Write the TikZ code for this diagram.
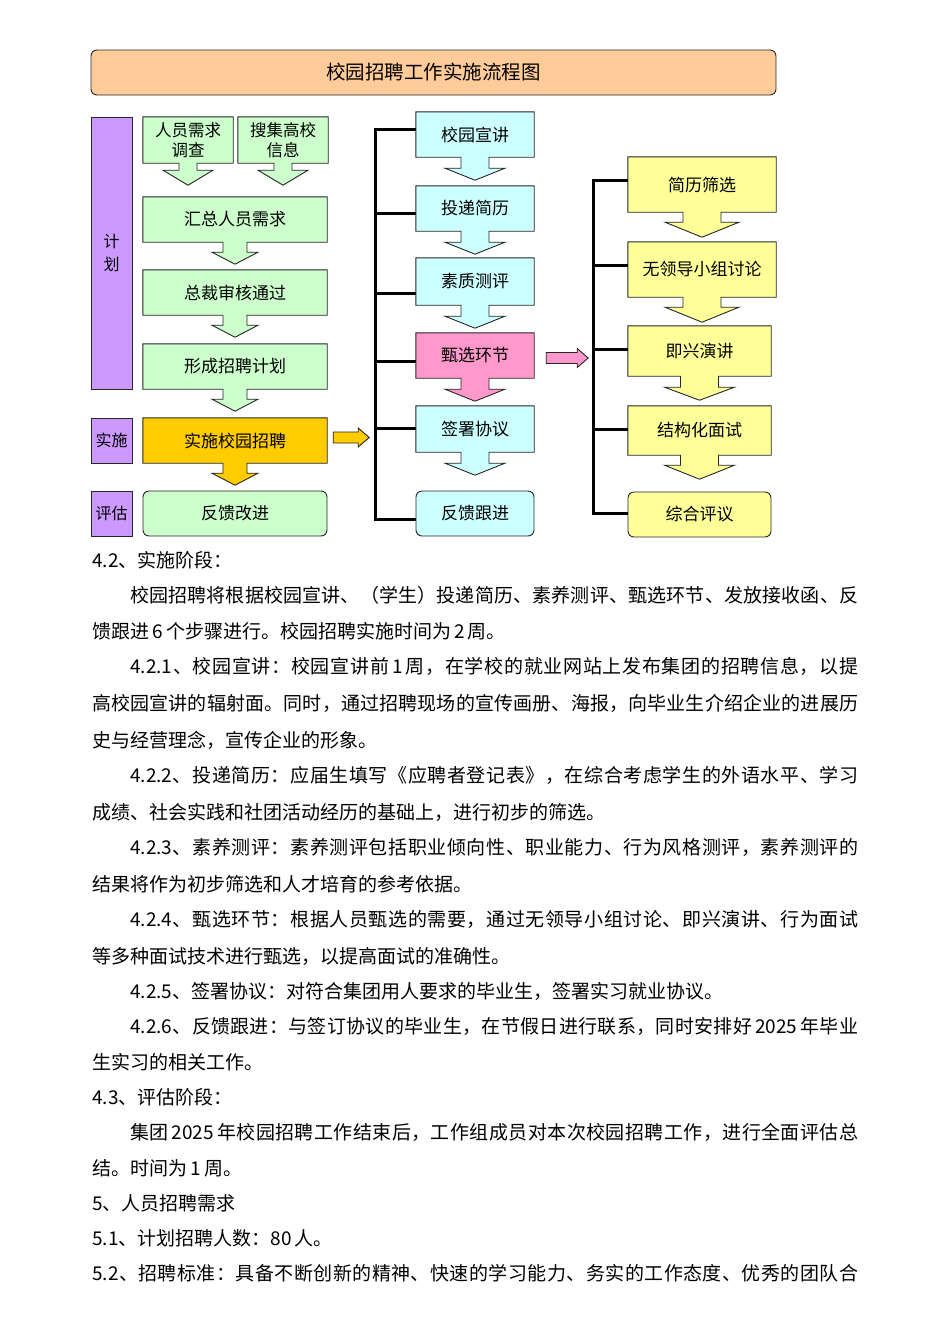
\documentclass[tikz,border=0pt]{standalone}
\usepackage{fontspec}
\setmainfont{Noto Sans CJK SC}
% espaciado entre ideogramas para justificar las lineas llenas
\newcount\cjkc
\cjkc="4E00
\loop \XeTeXcharclass\cjkc=1 \advance\cjkc by 1 \ifnum\cjkc<"A000 \repeat
\cjkc="3000
\loop \XeTeXcharclass\cjkc=1 \advance\cjkc by 1 \ifnum\cjkc<"3040 \repeat
\cjkc="FF00
\loop \XeTeXcharclass\cjkc=1 \advance\cjkc by 1 \ifnum\cjkc<"FF20 \repeat
\XeTeXinterchartokenstate=1
\XeTeXinterchartoks 1 1 = {\hskip 0pt plus 1pt\relax}
\XeTeXinterchartoks 0 1 = {\hskip 0pt plus 1pt\relax}
\XeTeXinterchartoks 1 0 = {\hskip 0pt plus 1pt\relax}
\usetikzlibrary{calc,backgrounds}
\definecolor{durazno}{HTML}{FFCC99}
\definecolor{lila}{HTML}{CC99FF}
\definecolor{verde}{HTML}{CCFFCC}
\definecolor{naranja}{HTML}{FFCC00}
\definecolor{celeste}{HTML}{CCFFFF}
\definecolor{rosa}{HTML}{FF99CC}
\definecolor{amarillo}{HTML}{FFFF99}
\tikzset{
  borde/.style={draw=black!85, line width=0.9pt},
  titulo/.style={rectangle, borde, fill=durazno, rounded corners=6pt,
                 minimum width=685pt, minimum height=45pt, font=\fontsize{19.5pt}{20pt}\selectfont},
  fase/.style={rectangle, borde, fill=lila, minimum width=41pt, inner sep=0pt,
               align=center, font=\fontsize{16pt}{23pt}\selectfont},
  paso/.style={rectangle, inner sep=0pt, align=center, font=\fontsize{17pt}{20pt}\selectfont},
  final/.style={paso, borde, rounded corners=6pt},
  bus/.style={line width=3pt, black},
  linea/.style={anchor=west, inner sep=0pt, font=\fontsize{19pt}{19pt}\selectfont}
}
% caja con flecha hacia abajo: nodo, color, medio tallo, media punta, largo tallo, largo punta
\newcommand{\bajada}[6]{%
  \begin{pgfonlayer}{background}
  \filldraw[borde, fill=#2] (#1.north west) -- (#1.north east) -- (#1.south east)
    -- ($(#1.south)+(#3,0)$) -- ($(#1.south)+(#3,#5)$) -- ($(#1.south)+(#4,#5)$)
    -- ($(#1.south)+(0,#5+#6)$) -- ($(#1.south)+(-#4,#5)$)
    -- ($(#1.south)+(-#3,#5)$) -- ($(#1.south)+(-#3,0)$)
    -- (#1.south west) -- cycle;
  \end{pgfonlayer}}
% flecha gruesa hacia la derecha: inicio, largo, color
\newcommand{\derecha}[3]{%
  \filldraw[borde, fill=#3] (#1) ++(0,-5.5) -- ++({#2-11},0) -- ++(0,-4) -- ++(11,9.5)
    -- ++(-11,9.5) -- ++(0,-4) -- ++({11-#2},0) -- cycle;}
\newcommand{\llena}[2]{\makebox[#1][s]{#2}}

\begin{document}
\begin{tikzpicture}[x=1pt, y=-1pt]
\useasboundingbox (0,0) rectangle (950,1344);
\begin{pgfonlayer}{background}
\fill[white] (0,0) rectangle (950,1344);
\end{pgfonlayer}

\node[titulo] (titulo) at (433.5,72.5) {校园招聘工作实施流程图};

% fases
\node[fase, minimum height=272pt] (fjihua) at (111.5,253) {计\\划};
\node[fase, minimum height=45pt] (fshishi) at (111.5,440.5) {实施};
\node[fase, minimum height=45pt] (fpinggu) at (111.5,513.5) {评估};

% columna izquierda
\node[paso, minimum width=90pt, minimum height=46pt, font=\fontsize{16.5pt}{20pt}\selectfont]
  (diaocha) at (188,140) {人员需求\\调查};
\node[paso, minimum width=90pt, minimum height=46pt, font=\fontsize{16.5pt}{20pt}\selectfont]
  (souji) at (283,140) {搜集高校\\信息};
\node[paso, minimum width=184pt, minimum height=45pt] (huizong) at (235,219.5) {汇总人员需求};
\node[paso, minimum width=184pt, minimum height=45pt] (shenhe) at (235,292.5) {总裁审核通过};
\node[paso, minimum width=184pt, minimum height=45pt] (jihua) at (235,366.5) {形成招聘计划};
\node[paso, minimum width=184pt, minimum height=45pt] (shishi) at (235,440.5) {实施校园招聘};
\node[final, fill=verde, minimum width=184pt, minimum height=45pt] (fankui) at (235,513.5) {反馈改进};

\bajada{diaocha}{verde}{9}{25}{7}{15}
\bajada{souji}{verde}{9}{25}{7}{15}
\bajada{huizong}{verde}{12}{23}{10}{12}
\bajada{shenhe}{verde}{12}{23}{10}{12}
\bajada{jihua}{verde}{12}{23}{10}{12}
\bajada{shishi}{naranja}{12}{23}{10}{12}

% columna central
\node[paso, minimum width=118pt, minimum height=45pt] (xuanjiang) at (475,134.5) {校园宣讲};
\node[paso, minimum width=118pt, minimum height=45pt] (toudi) at (475,208.5) {投递简历};
\node[paso, minimum width=118pt, minimum height=47pt] (cesu) at (475,281.5) {素质测评};
\node[paso, minimum width=118pt, minimum height=45pt] (zhenxuan) at (475,355.5) {甄选环节};
\node[paso, minimum width=118pt, minimum height=46pt] (qianshu) at (475,429) {签署协议};
\node[final, fill=celeste, minimum width=118pt, minimum height=45pt] (genjin) at (475,513.5) {反馈跟进};

\bajada{xuanjiang}{celeste}{14}{30}{11}{12}
\bajada{toudi}{celeste}{14}{30}{11}{12}
\bajada{cesu}{celeste}{14}{30}{11}{12}
\bajada{zhenxuan}{rosa}{14}{30}{11}{12}
\bajada{qianshu}{celeste}{14}{30}{11}{12}

% columna derecha
\node[paso, minimum width=148pt, minimum height=55pt] (shaixuan) at (702,184.5) {简历筛选};
\node[paso, minimum width=148pt, minimum height=55pt] (taolun) at (702,269.5) {无领导小组讨论};
\node[paso, minimum width=143pt, minimum height=50pt] (yanjiang) at (699.5,351) {即兴演讲};
\node[paso, minimum width=143pt, minimum height=49pt] (mianshi) at (699.5,430.5) {结构化面试};
\node[final, fill=amarillo, minimum width=143pt, minimum height=45pt] (pingyi) at (699.5,514.5) {综合评议};

\bajada{shaixuan}{amarillo}{19}{37}{10}{15}
\bajada{taolun}{amarillo}{19}{37}{10}{15}
\bajada{yanjiang}{amarillo}{19}{35}{11}{13}
\bajada{mianshi}{amarillo}{19}{35}{10}{14}

% barras
\coordinate (bm) at (375,519);
\draw[bus] ([yshift=5.5pt]xuanjiang.west) -| (bm) -- ([yshift=-5.5pt]genjin.west);
\draw[bus] ([yshift=-4.5pt]toudi.west) -- ++(-41,0);
\draw[bus] ([yshift=-11.5pt]cesu.west) -- ++(-41,0);
\draw[bus] ([yshift=-5.5pt]zhenxuan.west) -- ++(-41,0);
\draw[bus] ([yshift=1pt]qianshu.west) -- ++(-41,0);

\coordinate (bd) at (593,513);
\draw[bus] ([yshift=4.5pt]shaixuan.west) -| (bd) -- ([yshift=1.5pt]pingyi.west);
\draw[bus] ([yshift=4.5pt]taolun.west) -- ++(-35,0);
\draw[bus] ([yshift=2pt]yanjiang.west) -- ++(-35,0);
\draw[bus] ([yshift=1.5pt]mianshi.west) -- ++(-35,0);

\coordinate (o1) at ($(shishi.east)+(6,-3)$);
\derecha{o1}{36}{naranja}
\coordinate (o2) at ($(zhenxuan.east)+(12,2.5)$);
\derecha{o2}{42}{rosa}

% texto
\node[linea] (l1) at (92,560) {4.2、实施阶段：};
\node[linea] (l2) at (130,595) {\llena{728pt}{校园招聘将根据校园宣讲、（学生）投递简历、素养测评、甄选环节、发放接收函、反}};
\node[linea] (l3) at (92,631) {馈跟进\,6\,个步骤进行。校园招聘实施时间为\,2\,周。};
\node[linea] (l4) at (130,666) {\llena{728pt}{4.2.1、校园宣讲：校园宣讲前\,1\,周，在学校的就业网站上发布集团的招聘信息，以提}};
\node[linea] (l5) at (92,703) {\llena{766pt}{高校园宣讲的辐射面。同时，通过招聘现场的宣传画册、海报，向毕业生介绍企业的进展历}};
\node[linea] (l6) at (92,740) {史与经营理念，宣传企业的形象。};
\node[linea] (l7) at (130,775) {\llena{728pt}{4.2.2、投递简历：应届生填写《应聘者登记表》，在综合考虑学生的外语水平、学习}};
\node[linea] (l8) at (92,812) {成绩、社会实践和社团活动经历的基础上，进行初步的筛选。};
\node[linea] (l9) at (130,847) {\llena{728pt}{4.2.3、素养测评：素养测评包括职业倾向性、职业能力、行为风格测评，素养测评的}};
\node[linea] (l10) at (92,884) {结果将作为初步筛选和人才培育的参考依据。};
\node[linea] (l11) at (130,919) {\llena{728pt}{4.2.4、甄选环节：根据人员甄选的需要，通过无领导小组讨论、即兴演讲、行为面试}};
\node[linea] (l12) at (92,956) {等多种面试技术进行甄选，以提高面试的准确性。};
\node[linea] (l13) at (130,991) {4.2.5、签署协议：对符合集团用人要求的毕业生，签署实习就业协议。};
\node[linea] (l14) at (130,1026) {\llena{728pt}{4.2.6、反馈跟进：与签订协议的毕业生，在节假日进行联系，同时安排好\,2025\,年毕业}};
\node[linea] (l15) at (92,1062) {生实习的相关工作。};
\node[linea] (l16) at (92,1097) {4.3、评估阶段：};
\node[linea] (l17) at (130,1132) {\llena{728pt}{集团\,2025\,年校园招聘工作结束后，工作组成员对本次校园招聘工作，进行全面评估总}};
\node[linea] (l18) at (92,1168) {结。时间为\,1\,周。};
\node[linea] (l19) at (92,1203) {5、人员招聘需求};
\node[linea] (l20) at (92,1238) {5.1、计划招聘人数：80\,人。};
\node[linea] (l21) at (92,1273) {\llena{766pt}{5.2、招聘标准：具备不断创新的精神、快速的学习能力、务实的工作态度、优秀的团队合}};
\end{tikzpicture}
\end{document}
